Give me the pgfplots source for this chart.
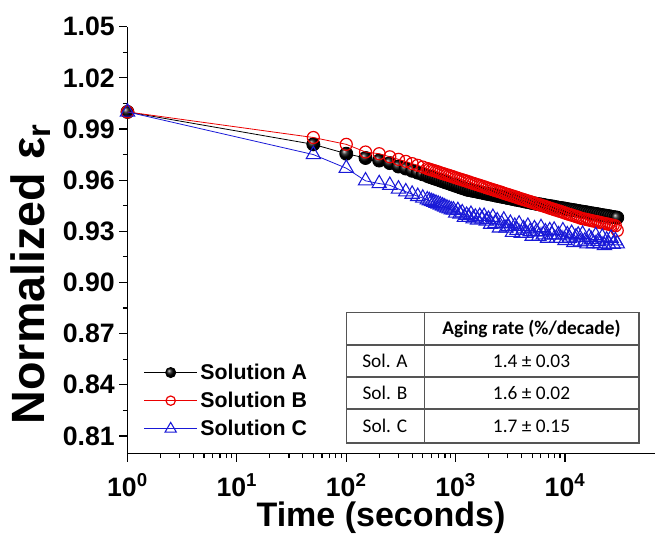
\documentclass[border=0pt]{standalone}
\usepackage{fontspec}
\setmainfont{Liberation Sans}
\newfontfamily\tabfont{Carlito}
\usepackage{pgfplots}
\pgfplotsset{compat=1.18}
\definecolor{solB}{RGB}{235,0,0}
\definecolor{solC}{RGB}{25,25,215}
\definecolor{tabline}{RGB}{85,85,85}

\begin{document}
\begin{tikzpicture}
\begin{axis}[
  at={(0,0)}, anchor=south west,
  scale only axis, width=395.6pt, height=320.1pt,
  xmode=log, xmin=1, xmax=66400,
  ymin=0.7997, ymax=1.05,
  axis x line*=bottom, axis y line*=left,
  axis line style={line width=0.9pt},
  tick align=outside,
  major tick length=6pt, minor tick length=3.5pt,
  every tick/.style={black, line width=0.9pt},
  xtick={1,10,100,1000,10000},
  xticklabels={10\textsuperscript{0},10\textsuperscript{1},10\textsuperscript{2},10\textsuperscript{3},10\textsuperscript{4}},
  ytick={0.81,0.84,0.87,0.90,0.93,0.96,0.99,1.02,1.05},
  yticklabels={0.81,0.84,0.87,0.90,0.93,0.96,0.99,1.02,1.05},
  minor ytick={0.825,0.855,0.885,0.915,0.945,0.975,1.005,1.035},
  tick label style={font=\fontsize{20}{24}\selectfont\bfseries},
  xticklabel style={anchor=base, yshift=-26pt},
  yticklabel style={anchor=east},
  xlabel={Time (seconds)},
  xlabel style={font=\fontsize{25.5}{31}\selectfont\bfseries,
    at={(axis description cs:0.4806,0)}, anchor=base, yshift=-54.5pt},
  ylabel={Normalized ε\textsubscript{r}},
  ylabel style={font=\fontsize{35}{42}\selectfont\bfseries,
    at={(axis description cs:-0.158,0.42)}, anchor=base},
  clip mode=individual,
  legend cell align=left,
  legend image code/.code={\draw[mark repeat=2, mark phase=2, #1,
      every mark/.append style={scale=0.78}]
    plot coordinates {(0pt,0pt) (20pt,0pt) (40pt,0pt)};},
  legend style={at={(axis description cs:0.0301,0.217)}, anchor=north west,
    draw=none, fill=none, inner sep=0pt, row sep=4pt,
    font=\fontsize{16}{19}\selectfont\bfseries,
    nodes={inner sep=2pt}},
]
\addplot[black, line width=0.6pt, mark=ball, mark size=4.9pt,
  mark options={ball color=black}] coordinates {
(1,1.000) (50,0.981) (100,0.9755) (150,0.973) (200,0.9715) (250,0.970)
(300,0.968) (350,0.9668) (400,0.9655) (450,0.9644) (500,0.9634)
(550,0.9625) (575,0.9620) (603,0.9616) (631,0.9611) (661,0.9607) (692,0.9603)
(724,0.9598) (759,0.9594) (794,0.9589) (832,0.9585) (871,0.9581) (912,0.9576)
(955,0.9572) (1000,0.9567) (1047,0.9563) (1096,0.9558) (1148,0.9554) (1202,0.9550)
(1259,0.9545) (1318,0.9542) (1380,0.9540) (1445,0.9537) (1514,0.9535) (1585,0.9532)
(1660,0.9529) (1738,0.9527) (1820,0.9524) (1905,0.9521) (1995,0.9519) (2089,0.9516)
(2188,0.9514) (2291,0.9511) (2399,0.9508) (2512,0.9506) (2630,0.9503) (2754,0.9501)
(2884,0.9498) (3020,0.9495) (3162,0.9493) (3311,0.9490) (3467,0.9487) (3631,0.9485)
(3802,0.9482) (3981,0.9480) (4169,0.9477) (4365,0.9474) (4571,0.9472) (4786,0.9469)
(5012,0.9466) (5248,0.9464) (5495,0.9461) (5754,0.9459) (6026,0.9457) (6310,0.9455)
(6607,0.9452) (6918,0.9450) (7244,0.9448) (7586,0.9446) (7943,0.9444) (8318,0.9441)
(8710,0.9439) (9120,0.9437) (9550,0.9435) (10000,0.9433) (10471,0.9430) (10965,0.9428)
(11482,0.9426) (12023,0.9424) (12589,0.9422) (13183,0.9419) (13804,0.9417) (14454,0.9415)
(15136,0.9413) (15849,0.9411) (16596,0.9408) (17378,0.9406) (18197,0.9404) (19055,0.9402)
(19953,0.9400) (20893,0.9397) (21878,0.9395) (22909,0.9393) (23988,0.9391) (25119,0.9389)
(26303,0.9386) (27542,0.9384) (28840,0.9382) (30000,0.9380)
};
\addlegendentry{Solution A}
\addplot[solB, line width=0.6pt, mark=o, mark size=4.5pt,
  mark options={line width=0.9pt}] coordinates {
(1,1.000) (50,0.985) (100,0.981) (150,0.9765) (200,0.9755) (250,0.9737)
(300,0.9722) (350,0.9710) (400,0.9697) (450,0.9687) (500,0.9677)
(550,0.9668) (575,0.9664) (603,0.9660) (631,0.9656) (661,0.9652) (692,0.9648)
(724,0.9643) (759,0.9639) (794,0.9635) (832,0.9631) (871,0.9627) (912,0.9623)
(955,0.9619) (1000,0.9614) (1047,0.9610) (1096,0.9606) (1148,0.9602) (1202,0.9598)
(1259,0.9594) (1318,0.9590) (1380,0.9585) (1445,0.9581) (1514,0.9577) (1585,0.9573)
(1660,0.9569) (1738,0.9565) (1820,0.9561) (1905,0.9556) (1995,0.9552) (2089,0.9548)
(2188,0.9544) (2291,0.9540) (2399,0.9536) (2512,0.9532) (2630,0.9528) (2754,0.9523)
(2884,0.9519) (3020,0.9515) (3162,0.9511) (3311,0.9507) (3467,0.9503) (3631,0.9499)
(3802,0.9494) (3981,0.9490) (4169,0.9486) (4365,0.9482) (4571,0.9478) (4786,0.9474)
(5012,0.9470) (5248,0.9465) (5495,0.9461) (5754,0.9457) (6026,0.9453) (6310,0.9449)
(6607,0.9445) (6918,0.9441) (7244,0.9436) (7586,0.9432) (7943,0.9428) (8318,0.9424)
(8710,0.9420) (9120,0.9416) (9550,0.9412) (10000,0.9407) (10471,0.9403) (10965,0.9399)
(11482,0.9395) (12023,0.9391) (12589,0.9387) (13183,0.9383) (13804,0.9378) (14454,0.9374)
(15136,0.9372) (15849,0.9369) (16596,0.9366) (17378,0.9363) (18197,0.9360) (19055,0.9358)
(19953,0.9355) (20893,0.9352) (21878,0.9349) (22909,0.9346) (23988,0.9344) (25119,0.9341)
(26303,0.9338) (27542,0.9335) (28840,0.9332) (30000,0.9305)
};
\addlegendentry{Solution B}
\addplot[solC, line width=0.6pt, mark=triangle, mark size=6.2pt,
  mark options={line width=0.8pt}] coordinates {
(1,1.000) (50,0.975) (100,0.967) (150,0.9596) (200,0.958) (250,0.957)
(300,0.9548) (350,0.9532) (400,0.9518) (450,0.9505) (500,0.9495)
(550,0.9485) (575,0.9480) (603,0.9475) (631,0.9470) (661,0.9465) (692,0.9460)
(724,0.9455) (759,0.9449) (794,0.9443) (832,0.9437) (871,0.9432) (912,0.9426)
(955,0.9425) (1000,0.9407) (1047,0.9422) (1096,0.9402) (1148,0.9409) (1202,0.9383)
(1259,0.9394) (1318,0.9382) (1380,0.9400) (1445,0.9374) (1514,0.9384) (1585,0.9366)
(1660,0.9388) (1738,0.9372) (1820,0.9388) (1905,0.9360) (1995,0.9371) (2089,0.9342)
(2188,0.9382) (2291,0.9347) (2399,0.9362) (2512,0.9320) (2630,0.9345) (2754,0.9366)
(2884,0.9319) (3020,0.9329) (3162,0.9347) (3311,0.9295) (3467,0.9330) (3631,0.9306)
(3802,0.9343) (3981,0.9289) (4169,0.9315) (4365,0.9289) (4571,0.9330) (4786,0.9298)
(5012,0.9272) (5248,0.9315) (5495,0.9298) (5754,0.9271) (6026,0.9322) (6310,0.9280)
(6607,0.9297) (6918,0.9260) (7244,0.9304) (7586,0.9279) (7943,0.9307) (8318,0.9259)
(8710,0.9280) (9120,0.9259) (9550,0.9303) (10000,0.9247) (10471,0.9280) (10965,0.9260)
(11482,0.9288) (12023,0.9235) (12589,0.9267) (13183,0.9278) (13804,0.9239) (14454,0.9283)
(15136,0.9243) (15849,0.9227) (16596,0.9266) (17378,0.9252) (18197,0.9228) (19055,0.9275)
(19953,0.9240) (20893,0.9227) (21878,0.9266) (22909,0.9217) (23988,0.9249) (25119,0.9224)
(26303,0.9260) (27542,0.9225) (28840,0.9245) (30000,0.9227)
};
\addlegendentry{Solution C}
\end{axis}
% aging-rate table
\fill[white] (163.9pt,7.9pt) rectangle (383.6pt,105.4pt);
\draw[tabline, line width=0.8pt] (163.9pt,7.9pt) rectangle (383.6pt,105.4pt);
\draw[tabline, line width=0.8pt] (222.4pt,7.9pt) -- (222.4pt,105.4pt);
\foreach \yy in {81.4,57.4,33.4} \draw[tabline, line width=0.8pt] (163.9pt,\yy pt) -- (383.6pt,\yy pt);
\begin{scope}[every node/.style={font=\tabfont\fontsize{14.5}{17}\selectfont}]
\node[font=\tabfont\bfseries\fontsize{14.5}{17}\selectfont] at (303.0pt,93.4pt) {Aging rate (\%/decade)};
\node at (193.1pt,69.4pt) {Sol. A};
\node at (193.1pt,45.4pt) {Sol. B};
\node at (193.1pt,20.6pt) {Sol. C};
\node at (303.0pt,69.4pt) {1.4 ± 0.03};
\node at (303.0pt,45.4pt) {1.6 ± 0.02};
\node at (303.0pt,20.6pt) {1.7 ± 0.15};
\end{scope}
\pgfresetboundingbox
\path[use as bounding box] (-95.6pt,-61.1pt) rectangle (395.6pt,340.1pt);
\end{tikzpicture}
\end{document}
